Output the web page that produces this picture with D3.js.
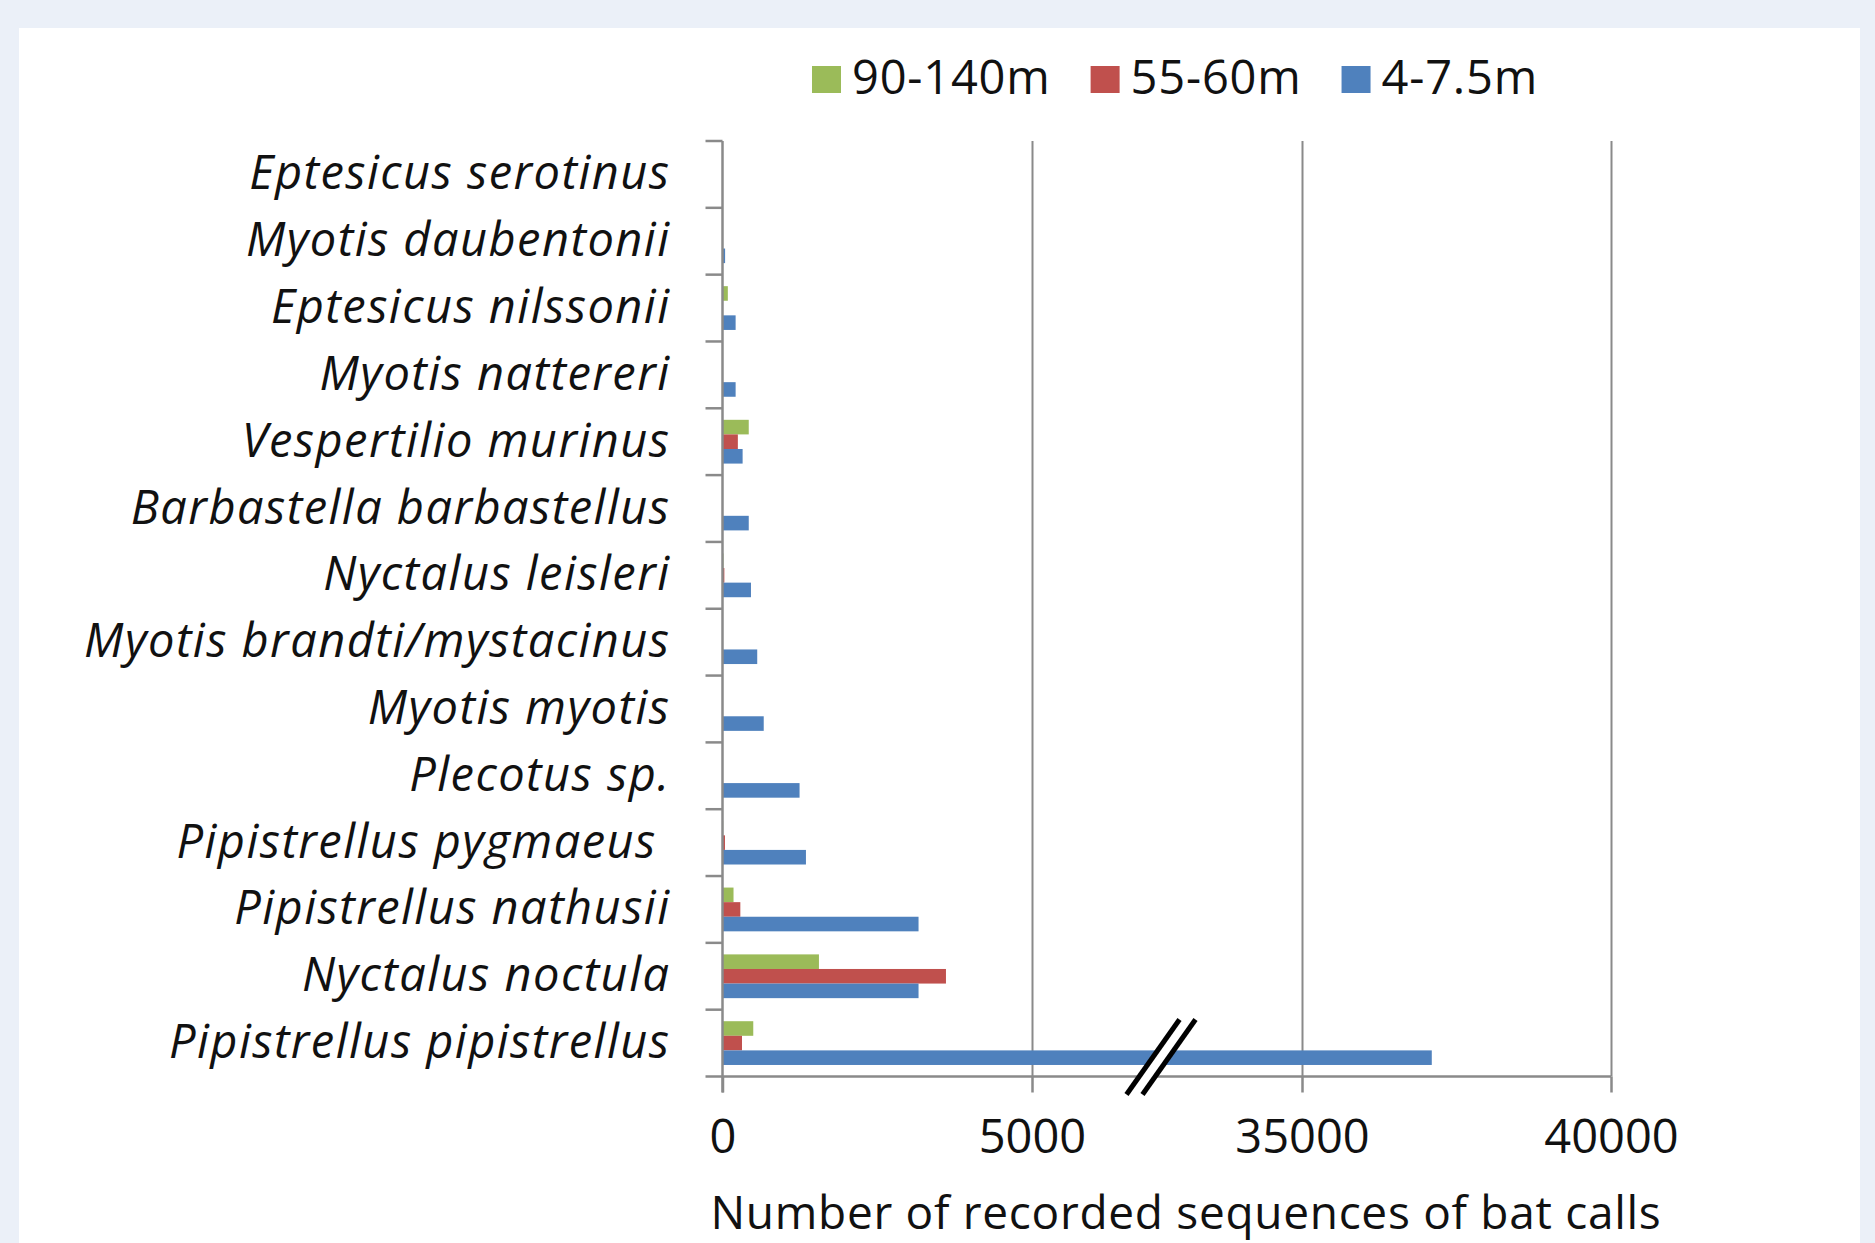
<!DOCTYPE html>
<html><head><meta charset="utf-8">
<script src="https://cdn.jsdelivr.net/npm/d3@7"></script>
<style>
html,body{margin:0;padding:0;background:#ebf0f8;}
svg{display:block;}
text{font-family:"Open Sans",sans-serif;fill:#111;}
</style>
</head><body><svg id="c" width="1875" height="1243"></svg>
<script>
// ---- data ----
const categories = [
  "Eptesicus serotinus","Myotis daubentonii","Eptesicus nilssonii","Myotis nattereri",
  "Vespertilio murinus","Barbastella barbastellus","Nyctalus leisleri","Myotis brandti/mystacinus",
  "Myotis myotis","Plecotus sp.","Pipistrellus pygmaeus ","Pipistrellus nathusii",
  "Nyctalus noctula","Pipistrellus pipistrellus"];
const seriesNames = ["90-140m","55-60m","4-7.5m"];
const seriesColors = ["#9BBB59","#C0504D","#4F81BD"];
const values90to140 = [0,0,86,0,424,0,15,0,0,0,10,178,1558,497];
const values55to60  = [0,0,0,0,248,0,30,0,0,0,40,288,3610,315];
const values4to7    = [5,42,212,212,325,424,460,561,666,1245,1348,3167,3167,37100];
const tickValues = [0,5000,35000,40000];
const tickLabels = ["0","5000","35000","40000"];
const axisTitle = "Number of recorded sequences of bat calls";

const seriesValues = [values90to140, values55to60, values4to7];

const svg = d3.select("#c");
// card
svg.append("rect").attr("x",19).attr("y",28).attr("width",1841).attr("height",1243-28).attr("fill","#fff");

const plotTop = 141, plotBottom = 1076.5;
const x = d3.scaleLinear().domain(tickValues).range([722.5,1032,1302,1611]);
const y = d3.scaleBand().domain(categories).range([plotTop,plotBottom]).paddingInner(0.345).paddingOuter(0.1725);
const ys = d3.scaleBand().domain(seriesNames).range([0,y.bandwidth()]);

const gridColor = "#8a8a8a";
// gridlines
const grid = svg.append("g").attr("transform",`translate(0,${plotBottom})`)
  .call(d3.axisBottom(x).tickValues(tickValues.slice(1)).tickSize(-(plotBottom-plotTop)).tickFormat(""));
grid.select(".domain").remove();
grid.selectAll("line").attr("stroke",gridColor).attr("stroke-width",2);

// bars
seriesNames.forEach((s,si)=>{
  svg.append("g").selectAll("rect").data(categories).join("rect")
    .attr("x",x(0))
    .attr("y",c=>y(c)+ys(s))
    .attr("width",(c,i)=>Math.max(0,x(seriesValues[si][i])-x(0)))
    .attr("height",ys.bandwidth())
    .attr("fill",seriesColors[si]);
});

// y axis line + boundary ticks
svg.append("line").attr("x1",x(0)).attr("x2",x(0)).attr("y1",plotTop).attr("y2",plotBottom+16)
  .attr("stroke",gridColor).attr("stroke-width",2.5);
svg.append("g").selectAll("line").data(d3.range(categories.length+1)).join("line")
  .attr("x1",x(0)-17).attr("x2",x(0))
  .attr("y1",i=>plotTop+i*y.step()).attr("y2",i=>plotTop+i*y.step())
  .attr("stroke",gridColor).attr("stroke-width",2.5);

// category labels
const yAxis = svg.append("g").attr("transform",`translate(${x(0)},0)`)
  .call(d3.axisLeft(y).tickSize(0).tickPadding(52));
yAxis.select(".domain").remove();
yAxis.selectAll("text").attr("font-size",47).attr("font-style","italic")
  .attr("letter-spacing","1.45px")
  .attr("font-family","'Open Sans',sans-serif").attr("fill","#111")
  .style("white-space","pre");

// x axis
const xAxis = svg.append("g").attr("transform",`translate(0,${plotBottom})`)
  .call(d3.axisBottom(x).tickValues(tickValues).tickFormat((d,i)=>tickLabels[i]).tickSize(16).tickPadding(27));
xAxis.select(".domain").attr("d",`M${x(0)},0H${x(40000)}`).attr("stroke",gridColor).attr("stroke-width",2.5);
xAxis.selectAll("line").attr("stroke",gridColor).attr("stroke-width",2.5);
xAxis.selectAll("text").attr("font-size",47).attr("font-family","'Open Sans',sans-serif").attr("fill","#111");

// axis break marker
const bx = x(5000) + 0.35*(x(35000)-x(5000));
const by0 = plotBottom + 18, by1 = plotBottom - 57, dx = 53, gap = 16;
svg.append("polygon")
  .attr("points",`${bx},${by0} ${bx+dx},${by1} ${bx+dx+gap},${by1} ${bx+gap},${by0}`)
  .attr("fill","#fff");
[0,gap].forEach(o=>{
  svg.append("line").attr("x1",bx+o).attr("y1",by0).attr("x2",bx+o+dx).attr("y2",by1)
    .attr("stroke","#000").attr("stroke-width",5);
});

// axis title
svg.append("text").attr("x",1186).attr("y",1229).attr("text-anchor","middle")
  .attr("font-size",46).attr("letter-spacing","0.7px").text(axisTitle);

// legend
const lg = svg.append("g");
let lx = 812;
seriesNames.forEach((s,i)=>{
  lg.append("rect").attr("x",lx).attr("y",66).attr("width",29).attr("height",27).attr("fill",seriesColors[i]);
  const t = lg.append("text").attr("x",lx+40).attr("y",94).attr("font-size",47).attr("letter-spacing","0.8px").text(s);
  lx = lx + 40 + t.node().getComputedTextLength() + 40;
});
</script>
</body></html>
